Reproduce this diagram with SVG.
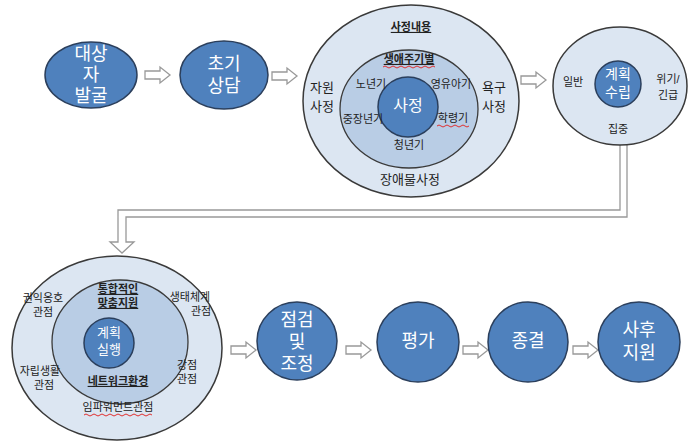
<svg xmlns="http://www.w3.org/2000/svg" xmlns:xlink="http://www.w3.org/1999/xlink" width="688" height="444" viewBox="0 0 688 444">
<defs>
<style>
text{font-family:"Liberation Sans","Noto Sans CJK KR",sans-serif;text-anchor:middle;dominant-baseline:middle}
.blue{fill:#4F81BD;stroke:#2B3F5C;stroke-width:1.5}
.outer{fill:#DCE6F2;stroke:#3A3A3A;stroke-width:1.5}
.inner{fill:#B9CDE5;stroke:#3A3A3A;stroke-width:1.3}
.big{fill:#fff;font-size:18px}
.mid{fill:#fff;font-size:15px}
.lbl{fill:#222;font-size:11px}
.lbl2{fill:#222;font-size:13px}
.ul{text-decoration:underline;font-weight:bold}
.arr{fill:#fff;stroke:#999;stroke-width:1.3}
.sq{fill:none;stroke:#E03030;stroke-width:1}
</style>
<path id="rarrow" d="M0,-4 H15 V-8 L25,0 L15,8 V4 H0 Z"/>
</defs>

<g id="connectors">
<use xlink:href="#rarrow" class="arr" transform="translate(145,75)"/>
<use xlink:href="#rarrow" class="arr" transform="translate(272,76)"/>
<use xlink:href="#rarrow" class="arr" transform="translate(521,80)"/>
<path class="arr" d="M620,144 V210 H118 V242 H110 L122,253 L134,242 H126 V217 H627 V144"/>
<use xlink:href="#rarrow" class="arr" transform="translate(231,350)"/>
<use xlink:href="#rarrow" class="arr" transform="translate(346,350)"/>
<use xlink:href="#rarrow" class="arr" transform="translate(463,350)"/>
<use xlink:href="#rarrow" class="arr" transform="translate(573,350)"/>
</g>

<g id="n1">
<ellipse class="blue" cx="91" cy="75" rx="46" ry="33"/>
<text class="big" x="91" y="55">대상</text>
<text class="big" x="91" y="76">자</text>
<text class="big" x="91" y="97">발굴</text>
</g>

<g id="n2">
<ellipse class="blue" cx="224" cy="75" rx="44" ry="34"/>
<text class="big" x="224" y="65">초기</text>
<text class="big" x="224" y="87">상담</text>
</g>

<g id="n3">
<ellipse class="outer" cx="411" cy="101" rx="108" ry="96"/>
<ellipse class="inner" cx="409" cy="109" rx="69" ry="59"/>
<circle class="blue" cx="408" cy="107" r="30"/>
<text class="mid" x="408" y="107" style="font-size:16px">사정</text>
<text class="lbl ul" x="411" y="28">사정내용</text>
<text class="lbl ul" x="409" y="60">생애주기별</text>
<path class="sq" d="M383,67 q2,-2 4,0 t4,0 t4,0 t4,0 t4,0 t4,0 t4,0 t4,0 t4,0 t4,0 t4,0 t4,0 t4,0"/>
<text class="lbl" x="371" y="85">노년기</text>
<text class="lbl" x="451" y="85">영유아기</text>
<text class="lbl" x="363" y="120">중장년기</text>
<text class="lbl" x="453" y="119">학령기</text>
<path class="sq" d="M437,126 q2,-2 4,0 t4,0 t4,0 t4,0 t4,0 t4,0 t4,0 t4,0"/>
<text class="lbl" x="409" y="146">청년기</text>
<text class="lbl2" x="322" y="89">자원</text>
<text class="lbl2" x="322" y="108">사정</text>
<text class="lbl2" x="494" y="89">욕구</text>
<text class="lbl2" x="494" y="108">사정</text>
<text class="lbl2" x="410" y="181">장애물사정</text>
</g>

<g id="n4">
<ellipse class="outer" cx="620" cy="86" rx="67" ry="59"/>
<circle class="blue" cx="618" cy="84" r="23"/>
<text class="mid" x="618" y="75" style="font-size:14px">계획</text>
<text class="mid" x="618" y="93" style="font-size:14px">수립</text>
<text class="lbl" x="573" y="83">일반</text>
<text class="lbl" x="668" y="80">위기/</text>
<text class="lbl" x="668" y="96">긴급</text>
<text class="lbl" x="618" y="130">집중</text>
</g>

<g id="n5">
<ellipse class="outer" cx="117" cy="348" rx="105" ry="92"/>
<ellipse class="inner" cx="120" cy="342" rx="68" ry="62"/>
<circle class="blue" cx="109" cy="343" r="25"/>
<text class="mid" x="109" y="334" style="font-size:13px">계획</text>
<text class="mid" x="109" y="351" style="font-size:13px">실행</text>
<text class="lbl ul" x="118" y="290">통합적인</text>
<text class="lbl ul" x="118" y="304">맞춤지원</text>
<text class="lbl ul" x="118" y="382">네트워크환경</text>
<text class="lbl" x="43" y="299">권익옹호</text>
<text class="lbl" x="43" y="313">관점</text>
<text class="lbl" x="190" y="298">생태체계</text>
<text class="lbl" x="201" y="312">관점</text>
<text class="lbl" x="40" y="372">자립생활</text>
<text class="lbl" x="44" y="386">관점</text>
<text class="lbl" x="187" y="366">강점</text>
<text class="lbl" x="187" y="380">관점</text>
<text class="lbl" x="118" y="408">임파워먼트관점</text>
<path class="sq" d="M84,415 q2,-2 4,0 t4,0 t4,0 t4,0 t4,0 t4,0 t4,0 t4,0 t4,0 t4,0 t4,0 t4,0 t4,0 t4,0 t4,0 t4,0 t4,0"/>
</g>

<g id="n6">
<ellipse class="blue" cx="297" cy="341" rx="40" ry="39"/>
<text class="big" x="297" y="321">점검</text>
<text class="big" x="297" y="343">및</text>
<text class="big" x="297" y="365">조정</text>
</g>

<g id="n7">
<ellipse class="blue" cx="418" cy="342" rx="41" ry="40"/>
<text class="big" x="418" y="342">평가</text>
</g>

<g id="n8">
<ellipse class="blue" cx="528" cy="342" rx="40" ry="40"/>
<text class="big" x="528" y="342">종결</text>
</g>

<g id="n9">
<ellipse class="blue" cx="639" cy="342" rx="41" ry="40"/>
<text class="big" x="639" y="331">사후</text>
<text class="big" x="639" y="354">지원</text>
</g>
</svg>
